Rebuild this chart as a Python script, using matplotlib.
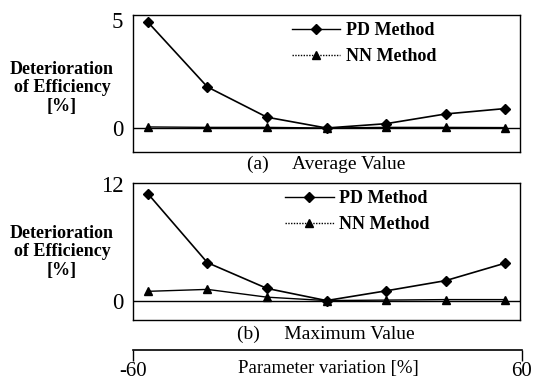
import matplotlib.pyplot as plt
from matplotlib.lines import Line2D

plt.rcParams['font.family'] = ['Liberation Serif', 'DejaVu Serif']
plt.rcParams['axes.unicode_minus'] = False

# === Data ===
variation = [-60, -40, -20, 0, 20, 40, 60]

avg_pd = [4.9, 1.9, 0.5, 0.0, 0.2, 0.65, 0.9]
avg_nn = [0.05, 0.03, 0.03, 0.0, 0.03, 0.03, 0.02]

max_pd = [11.0, 3.9, 1.25, 0.0, 1.0, 2.05, 3.85]
max_nn = [0.95, 1.15, 0.35, 0.0, 0.05, 0.1, 0.1]

W, H = 534, 384
fig = plt.figure(figsize=(W / 100, H / 100), dpi=100)


def box(left, top, right, bottom):
    return [left / W, 1 - bottom / H, (right - left) / W, (bottom - top) / H]


def panel(rect, pd_vals, nn_vals, ylim, ytop_label):
    ax = fig.add_axes(rect)
    ax.axhline(0, color="black", lw=1.0, zorder=1)
    ax.plot(variation, pd_vals, color="black", lw=1.2, marker="D", ms=5,
            zorder=3)
    ax.plot(variation, nn_vals, color="black", lw=1.0, marker="^", ms=6,
            zorder=2)
    ax.set_xlim(-65, 65)
    ax.set_ylim(*ylim)
    ax.set_xticks([])
    ax.set_yticks([0, ytop_label])
    ax.set_yticklabels(["0", str(ytop_label)])
    ax.tick_params(axis="y", length=0, pad=7, labelsize=16.5)
    for s in ax.spines.values():
        s.set_linewidth(1.0)
    return ax


ax1 = panel(box(133, 15, 520, 152), avg_pd, avg_nn, (-1.11, 5.23), 5)
ax2 = panel(box(133, 183, 520, 320), max_pd, max_nn, (-2.0, 12.1), 12)

# legend keys: solid for PD, dotted for NN
handles = [
    Line2D([], [], color="black", lw=1.0, marker="D", ms=5),
    Line2D([], [], color="black", lw=1.0, ls=(0, (1, 1)), marker="^", ms=6),
]
for ax, x0 in ((ax1, 0.41), (ax2, 0.393)):
    ax.legend(handles, ["PD Method", "NN Method"], loc="upper left",
              bbox_to_anchor=(x0, 0.95), frameon=False,
              prop={"weight": "bold", "size": 13}, handlelength=2.7,
              handletextpad=0.3, labelspacing=0.5, borderpad=0,
              borderaxespad=0)

ylab = "Deterioration\nof Efficiency\n[%]"
fig.text(62 / W, 1 - 88 / H, ylab, ha="center", va="center",
         fontsize=13, fontweight="bold", linespacing=1.1)
fig.text(62 / W, 1 - 252 / H, ylab, ha="center", va="center",
         fontsize=13, fontweight="bold", linespacing=1.1)

fig.text(326 / W, 1 - 164 / H, "(a)     Average Value", ha="center",
         va="center", fontsize=14)
fig.text(326 / W, 1 - 334 / H, "(b)     Maximum Value", ha="center",
         va="center", fontsize=14)

# === Separate parameter axis at the bottom ===
ax3 = fig.add_axes([133 / W, 1 - 350 / H, (522 - 133) / W, 0.001])
for side in ("left", "right", "top"):
    ax3.spines[side].set_visible(False)
ax3.spines["bottom"].set_linewidth(1.2)
ax3.set_xlim(-60, 60)
ax3.set_xticks([-60, 60])
ax3.set_yticks([])
ax3.tick_params(axis="x", direction="out", length=8, width=1.0,
                labelsize=15, pad=1)
fig.text(328 / W, 1 - 369 / H, "Parameter variation [%]", ha="center",
         va="center", fontsize=13.5)

fig.savefig("out.png", dpi=100)
